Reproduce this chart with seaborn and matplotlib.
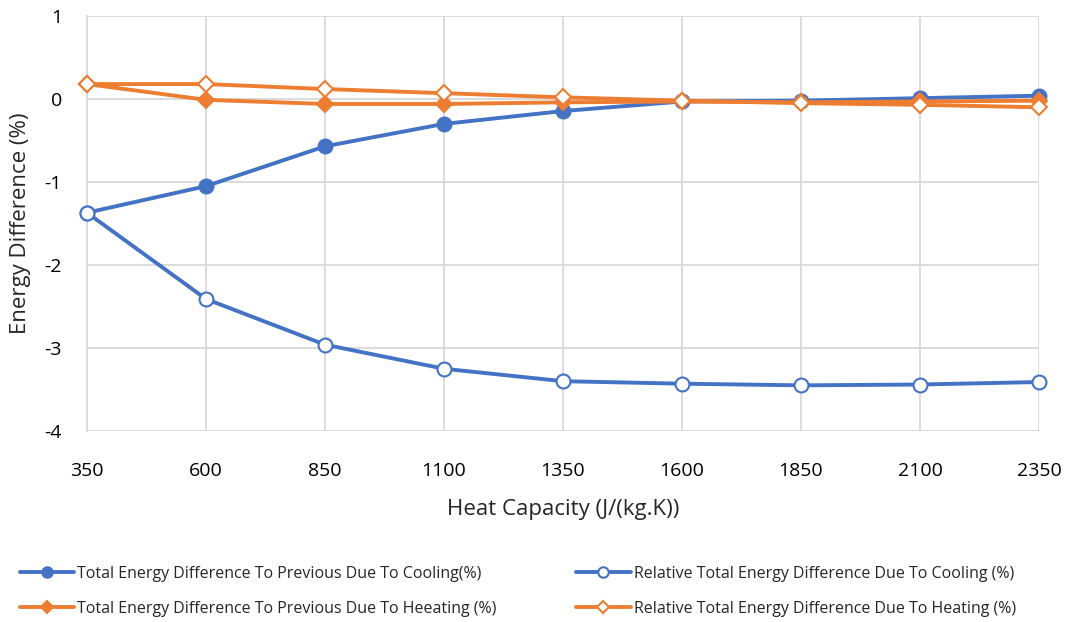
import matplotlib
matplotlib.use("Agg")
import matplotlib.pyplot as plt
import seaborn as sns
import pandas as pd

heat_capacity = [350, 600, 850, 1100, 1350, 1600, 1850, 2100, 2350]
cooling_prev = [-1.37, -1.05, -0.57, -0.30, -0.145, -0.03, -0.02, 0.01, 0.04]
cooling_rel = [-1.37, -2.41, -2.96, -3.25, -3.40, -3.43, -3.45, -3.44, -3.41]
heating_prev = [0.18, -0.01, -0.06, -0.06, -0.04, -0.03, -0.04, -0.03, -0.02]
heating_rel = [0.18, 0.18, 0.12, 0.07, 0.02, -0.02, -0.05, -0.07, -0.10]

labels = [
    "Total Energy Difference To Previous Due To Cooling(%)",
    "Relative Total Energy Difference Due To Cooling (%)",
    "Total Energy Difference To Previous Due To Heeating (%)",
    "Relative Total Energy Difference Due To Heating (%)",
]
x_ticks = [350, 600, 850, 1100, 1350, 1600, 1850, 2100, 2350]
y_ticks = [-4, -3, -2, -1, 0, 1]

BLUE = "#4472C4"
ORANGE = "#ED7D31"

sns.set_theme(style="white")
plt.rcParams["font.family"] = ["Open Sans", "DejaVu Sans"]

df = pd.DataFrame({
    "x": heat_capacity * 4,
    "y": cooling_prev + cooling_rel + heating_prev + heating_rel,
    "series": sum([[l] * len(heat_capacity) for l in labels], []),
})

styles = {
    labels[0]: dict(color=BLUE, marker="o", mfc=BLUE, ms=10),
    labels[1]: dict(color=BLUE, marker="o", mfc="white", ms=10),
    labels[2]: dict(color=ORANGE, marker="D", mfc=ORANGE, ms=8),
    labels[3]: dict(color=ORANGE, marker="D", mfc="white", ms=8),
}

fig = plt.figure(figsize=(10.68, 6.22), dpi=100)
ax = fig.add_axes([87 / 1068, 1 - 431 / 622, (1039 - 87) / 1068, (431 - 16) / 622])

for lab in labels:
    st = styles[lab]
    sub = df[df["series"] == lab]
    sns.lineplot(data=sub, x="x", y="y", ax=ax, color=st["color"], lw=2.8,
                 marker=st["marker"], markersize=st["ms"],
                 markerfacecolor=st["mfc"], markeredgecolor=st["color"],
                 markeredgewidth=1.5, label=lab, clip_on=False, zorder=3)

ax.set_xlim(350, 2350)
ax.set_ylim(-4, 1)
ax.set_xticks(x_ticks)
ax.set_yticks(y_ticks)
ax.set_xticklabels([str(t) for t in x_ticks], fontsize=14)
ax.set_yticklabels([str(t) for t in y_ticks], fontsize=14)
ax.grid(True, color="#D9D9D9", lw=1.3)
for s in ["top", "right", "bottom"]:
    ax.spines[s].set_visible(False)
ax.spines["left"].set_color("#D9D9D9")
ax.spines["left"].set_linewidth(1.3)
ax.tick_params(axis="x", length=0, pad=22, colors="#000000")
ax.tick_params(axis="y", length=0, pad=18, colors="#000000")
ax.set_xlabel("Heat Capacity (J/(kg.K))", fontsize=16, labelpad=14)
ax.set_ylabel("Energy Difference (%)", fontsize=16, labelpad=10)

# two rows: cooling on the first, heating on the second
handles, hl = ax.get_legend_handles_labels()
order = [0, 2, 1, 3]
ax.legend([handles[i] for i in order], [hl[i] for i in order],
          loc="upper left", bbox_to_anchor=(-0.086, -0.29),
          ncol=2, frameon=False, fontsize=11.5, columnspacing=5.0,
          handlelength=3.4, handletextpad=0.2, labelspacing=1.2,
          markerscale=0.75)

fig.savefig("out.png", dpi=100)
